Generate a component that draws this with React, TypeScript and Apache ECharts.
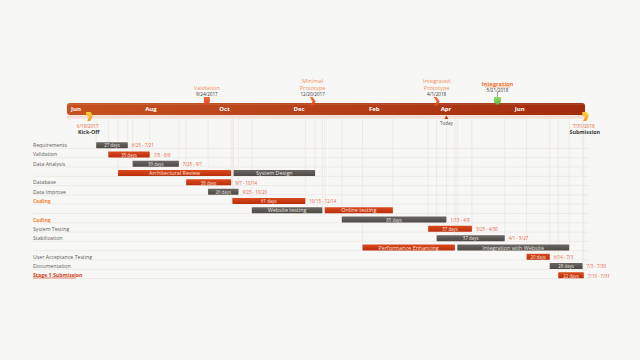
import React, { useEffect, useRef } from 'react';
import * as echarts from 'echarts';

const FONT = 'Open Sans';
const axisStart = '2017-06-01';
const axisEnd = '2018-08-01';

const monthDates = ['2017-06-01', '2017-08-01', '2017-10-01', '2017-12-01', '2018-02-01', '2018-04-01', '2018-06-01'];
const monthNames = ['Jun', 'Aug', 'Oct', 'Dec', 'Feb', 'Apr', 'Jun'];

const rowNames = ['Requirements', 'Validation', 'Data Analysis', '', 'Database', 'Data Improve', 'Coding', '', 'Coding', 'System Testing', 'Stabilization', '', 'User Acceptance Testing', 'Documentation', 'Stage 1 Submission'];
const rowStyle = ['n', 'n', 'n', 'n', 'n', 'n', 'c', 'n', 'c', 'n', 'n', 'n', 'n', 'n', 's'];

const taskRow = [0, 1, 2, 3, 3, 4, 5, 6, 7, 7, 8, 9, 10, 11, 11, 12, 13, 14];
const taskStart = ['2017-06-25', '2017-07-05', '2017-07-25', '2017-07-13', '2017-10-16', '2017-09-07', '2017-09-25', '2017-10-15', '2017-10-31', '2017-12-30', '2018-01-13', '2018-03-25', '2018-04-01', '2018-01-30', '2018-04-18', '2018-06-14', '2018-07-03', '2018-07-10'];
const taskEnd = ['2017-07-21', '2017-08-08', '2017-09-01', '2017-10-14', '2017-12-22', '2017-10-14', '2017-10-20', '2017-12-14', '2017-12-28', '2018-02-24', '2018-04-09', '2018-04-30', '2018-05-27', '2018-04-16', '2018-07-19', '2018-07-03', '2018-07-30', '2018-07-31'];
const taskKind = ['g', 'r', 'g', 'r', 'g', 'r', 'g', 'r', 'g', 'r', 'g', 'r', 'g', 'r', 'g', 'r', 'g', 'r'];
const taskText = ['27 days', '35 days', '39 days', 'Architectural Review', 'System Design', '38 days', '26 days', '61 days', 'Website testing', 'Online testing', '85 days', '37 days', '57 days', 'Performance Enhancing', 'Integration with Website', '20 days', '28 days', '22 days'];
const taskNote = ['6/25 - 7/21', '7/5 - 8/8', '7/25 - 9/1', '', '', '9/7 - 10/14', '9/25 - 10/20', '10/15 - 12/14', '', '', '1/13 - 4/9', '3/25 - 4/30', '4/1 - 5/27', '', '', '6/14 - 7/3', '7/3 - 7/30', '7/10 - 7/31'];

const topNames = ['Validation', 'Minimal\nPrototype', 'Integrated\nPrototype', 'Integration'];
const topDates = ['2017-09-24', '2017-12-20', '2018-04-01', '2018-05-21'];
const topDateText = ['9/24/2017', '12/20/2017', '4/1/2018', '5/21/2018'];
const topShape = ['drop', 'chevron', 'chevron', 'green'];

const endNames = ['Kick-Off', 'Submission'];
const endDates = ['2017-06-18', '2018-07-31'];
const endDateText = ['6/18/2017', '7/31/2018'];

const todayDate = '2018-04-09';

const t = (s: string) => new Date(s + 'T00:00:00').getTime();

function buildOption() {
  const lg = (a: string, b: string) =>
    new echarts.graphic.LinearGradient(0, 0, 0, 1, [
      { offset: 0, color: a },
      { offset: 1, color: b },
    ]);

  const vlineSet: Record<string, number> = {};
  taskStart.forEach((s, i) => {
    const r = taskRow[i];
    [s, taskEnd[i]].forEach((d) => {
      if (vlineSet[d] === undefined || vlineSet[d] < r) vlineSet[d] = r;
    });
  });
  const vlineData = Object.keys(vlineSet).map((d) => [t(d), vlineSet[d]]);

  return {
    animation: false,
    backgroundColor: '#f7f7f6',
    textStyle: { fontFamily: FONT },
    grid: [
      { left: 67, right: 55, top: 103, height: 12 },
      { left: 67, right: 55, top: 140.5, height: 139.5 },
    ],
    xAxis: [
      { type: 'time', gridIndex: 0, min: t(axisStart), max: t(axisEnd), show: false },
      { type: 'time', gridIndex: 1, min: t(axisStart), max: t(axisEnd), show: false },
    ],
    yAxis: [
      { type: 'value', gridIndex: 0, min: 0, max: 1, show: false },
      {
        type: 'category',
        gridIndex: 1,
        inverse: true,
        data: rowNames,
        axisLine: { show: false },
        axisTick: { show: false },
        splitLine: { show: false },
        axisLabel: {
          interval: 0,
          align: 'left',
          margin: 34,
          fontSize: 5.2,
          fontFamily: FONT,
          formatter: (v: string, idx: number) =>
            rowStyle[idx] === 'c' ? `{c|${v}}` : rowStyle[idx] === 's' ? `{s|${v}}` : `{n|${v}}`,
          rich: {
            n: { color: '#5c5c5c', fontSize: 5.2, fontFamily: FONT },
            c: { color: '#f0863a', fontSize: 5.2, fontWeight: 'bold', fontFamily: FONT },
            s: { color: '#d2421a', fontSize: 5.2, fontWeight: 'bold', fontFamily: FONT },
          },
        },
      },
    ],
    series: [
      // row leader lines
      {
        type: 'custom',
        xAxisIndex: 1,
        yAxisIndex: 1,
        silent: true,
        z: 1,
        data: rowNames.map((_, i) => [t(axisStart), t(axisEnd), i]),
        renderItem: (p: any, api: any) => {
          const a = api.coord([api.value(0), api.value(2)]);
          const b = api.coord([api.value(1), api.value(2)]);
          const i = api.value(2);
          const y = a[1] + 3.2;
          const ch: any[] = [
            { type: 'line', shape: { x1: a[0] - 34, y1: y, x2: b[0] + 4, y2: y }, style: { stroke: '#ebe7e2', lineWidth: 0.8 } },
          ];
          if (rowStyle[i] === 's') {
            ch.push({ type: 'line', shape: { x1: a[0] - 34, y1: y - 0.6, x2: a[0] - 34 + 43, y2: y - 0.6 }, style: { stroke: '#d2421a', lineWidth: 0.6 } });
          }
          return { type: 'group', children: ch };
        },
      },
      // vertical guide lines
      {
        type: 'custom',
        xAxisIndex: 1,
        yAxisIndex: 1,
        silent: true,
        z: 1,
        data: vlineData,
        renderItem: (p: any, api: any) => {
          const top = api.coord([api.value(0), 0]);
          const bot = api.coord([api.value(0), api.value(1)]);
          const band = api.size([0, 1])[1];
          const y0 = top[1] - band / 2 - 22;
          return {
            type: 'line',
            shape: { x1: top[0], y1: y0, x2: top[0], y2: bot[1] + 3 },
            style: { stroke: '#eeeae5', lineWidth: 1 },
          };
        },
      },
      // task bars
      {
        type: 'custom',
        xAxisIndex: 1,
        yAxisIndex: 1,
        z: 3,
        data: taskStart.map((s, i) => [t(s), t(taskEnd[i]), taskRow[i], i]),
        encode: { x: [0, 1], y: 2 },
        renderItem: (p: any, api: any) => {
          const i = api.value(3);
          const s = api.coord([api.value(0), api.value(2)]);
          const e = api.coord([api.value(1), api.value(2)]);
          const red = taskKind[i] === 'r';
          const long = taskText[i].indexOf('days') < 0;
          const ch: any[] = [
            {
              type: 'rect',
              shape: { x: s[0], y: s[1] - 3, width: e[0] - s[0], height: 6, r: 0.6 },
              style: { fill: red ? lg('#dc4a1e', '#b82e0c') : lg('#6b6762', '#4d4944') },
            },
            {
              type: 'text',
              style: {
                text: taskText[i],
                x: (s[0] + e[0]) / 2,
                y: s[1] + 0.2,
                align: 'center',
                verticalAlign: 'middle',
                fontSize: long ? 5.4 : 4.4,
                fontFamily: FONT,
                fill: red ? '#fbe3d8' : '#e6e4e0',
              },
            },
          ];
          if (taskNote[i]) {
            ch.push({
              type: 'text',
              style: {
                text: taskNote[i],
                x: e[0] + 4,
                y: s[1] + 0.2,
                align: 'left',
                verticalAlign: 'middle',
                fontSize: 4.4,
                fontFamily: FONT,
                fill: '#e8603c',
              },
            });
          }
          return { type: 'group', children: ch };
        },
      },
      // timeline bar
      {
        type: 'custom',
        xAxisIndex: 0,
        yAxisIndex: 0,
        z: 2,
        silent: true,
        data: [[t(axisStart), t(axisEnd)]],
        renderItem: (p: any, api: any) => {
          const a = api.coord([api.value(0), 1]);
          const b = api.coord([api.value(1), 0]);
          return {
            type: 'group',
            children: [
              { type: 'rect', shape: { x: a[0], y: b[1] + 0.5, width: b[0] - a[0], height: 3.5 }, style: { fill: lg('#f0d2c4', '#f6ebe6') } },
              {
                type: 'rect',
                shape: { x: a[0], y: a[1], width: b[0] - a[0], height: b[1] - a[1], r: 3 },
                style: {
                  fill: new echarts.graphic.LinearGradient(0, 0, 1, 0, [
                    { offset: 0, color: '#c5521f' },
                    { offset: 0.5, color: '#b53f18' },
                    { offset: 1, color: '#a12b0d' },
                  ]),
                },
              },
              { type: 'rect', shape: { x: a[0] + 2, y: a[1] + 0.5, width: b[0] - a[0] - 4, height: 1.2 }, style: { fill: 'rgba(255,255,255,0.12)' } },
            ],
          };
        },
      },
      // month labels
      {
        type: 'custom',
        xAxisIndex: 0,
        yAxisIndex: 0,
        z: 4,
        silent: true,
        data: monthDates.map((d, i) => [t(d), i]),
        renderItem: (p: any, api: any) => {
          const c = api.coord([api.value(0), 0.5]);
          return {
            type: 'text',
            style: {
              text: monthNames[api.value(1)],
              x: c[0] + 4,
              y: c[1],
              align: 'left',
              verticalAlign: 'middle',
              fontSize: 6,
              fontWeight: 'bold',
              fontFamily: FONT,
              fill: '#ffffff',
            },
          };
        },
      },
      // top milestones
      {
        type: 'custom',
        xAxisIndex: 0,
        yAxisIndex: 0,
        z: 5,
        silent: true,
        data: topDates.map((d, i) => [t(d), i]),
        renderItem: (p: any, api: any) => {
          const i = api.value(1);
          const c = api.coord([api.value(0), 1]);
          const x = c[0];
          const top = c[1];
          const shape = topShape[i];
          const ch: any[] = [];
          let dateY = top - 9;
          if (shape === 'drop') {
            ch.push({
              type: 'polygon',
              shape: { points: [[x - 3, top - 6], [x + 3, top - 6], [x + 3, top - 1], [x, top + 3], [x - 3, top - 1]] },
              style: { fill: lg('#f26a3a', '#d8401c') },
            });
          } else if (shape === 'chevron') {
            ch.push({
              type: 'polygon',
              shape: { points: [[x - 3, top - 6], [x, top - 6], [x + 3, top - 1.5], [x + 0.5, top + 3], [x - 2.5, top + 3], [x, top - 1.5]] },
              style: { fill: lg('#f4743c', '#dc4a1e') },
            });
          } else {
            dateY = top - 13;
            ch.push({ type: 'line', shape: { x1: x, y1: top - 11, x2: x, y2: top - 5 }, style: { stroke: '#8a8a8a', lineWidth: 0.8 } });
            ch.push({
              type: 'polygon',
              shape: { points: [[x - 3.5, top - 6], [x + 3.5, top - 6], [x + 3.5, top - 1], [x, top + 2], [x - 3.5, top - 1]] },
              style: { fill: lg('#9ad86a', '#5fb436') },
            });
          }
          ch.push({
            type: 'text',
            style: { text: topDateText[i], x, y: dateY, align: 'center', verticalAlign: 'middle', fontSize: 4.6, fontFamily: FONT, fill: '#3a3a3a' },
          });
          const isInt = shape === 'green';
          ch.push({
            type: 'text',
            style: {
              text: topNames[i],
              x,
              y: dateY - 3,
              align: 'center',
              verticalAlign: 'bottom',
              fontSize: 5.6,
              lineHeight: 6.6,
              fontFamily: FONT,
              fontWeight: isInt ? 'bold' : 'normal',
              fill: isInt ? '#e8702a' : '#f3925a',
            },
          });
          if (isInt) {
            ch.push({ type: 'line', shape: { x1: x - 13, y1: dateY - 3, x2: x + 13, y2: dateY - 3 }, style: { stroke: '#e8702a', lineWidth: 0.5 } });
          }
          return { type: 'group', children: ch };
        },
      },
      // bottom milestones (flags)
      {
        type: 'custom',
        xAxisIndex: 0,
        yAxisIndex: 0,
        z: 5,
        silent: true,
        data: endDates.map((d, i) => [t(d), i]),
        renderItem: (p: any, api: any) => {
          const i = api.value(1);
          const c = api.coord([api.value(0), 0]);
          const x = c[0];
          const b = c[1];
          return {
            type: 'group',
            children: [
              {
                type: 'polygon',
                shape: { points: [[x - 1.5, b - 3], [x + 3, b - 3], [x + 5, b + 1], [x + 2.5, b + 6], [x - 0.5, b + 6], [x + 1.5, b + 1.5], [x - 1.5, b + 0.5]] },
                style: { fill: lg('#ffd23a', '#f39a12') },
              },
              { type: 'text', style: { text: endDateText[i], x, y: b + 11, align: 'center', verticalAlign: 'middle', fontSize: 4.6, fontFamily: FONT, fill: '#e8603c' } },
              { type: 'text', style: { text: endNames[i], x: x + 1, y: b + 17, align: 'center', verticalAlign: 'middle', fontSize: 5.4, fontWeight: 'bold', fontFamily: FONT, fill: '#3a3a3a' } },
            ],
          };
        },
      },
      // today marker
      {
        type: 'custom',
        xAxisIndex: 0,
        yAxisIndex: 0,
        z: 5,
        silent: true,
        data: [[t(todayDate)]],
        renderItem: (p: any, api: any) => {
          const c = api.coord([api.value(0), 0]);
          const x = c[0];
          const b = c[1];
          return {
            type: 'group',
            children: [
              { type: 'polygon', shape: { points: [[x, b + 0.5], [x + 2, b + 4], [x - 2, b + 4]] }, style: { fill: '#c0391a' } },
              { type: 'text', style: { text: 'Today', x, y: b + 7.5, align: 'center', verticalAlign: 'middle', fontSize: 4.6, fontFamily: FONT, fill: '#555555' } },
            ],
          };
        },
      },
    ],
  };
}

export default function App() {
  const ref = useRef<HTMLDivElement>(null);
  useEffect(() => {
    const chart = echarts.init(ref.current!, null, { renderer: 'svg' });
    chart.setOption(buildOption() as any);
    return () => chart.dispose();
  }, []);
  return <div ref={ref} style={{ position: 'fixed', left: 0, top: 0, width: 640, height: 360 }} />;
}
